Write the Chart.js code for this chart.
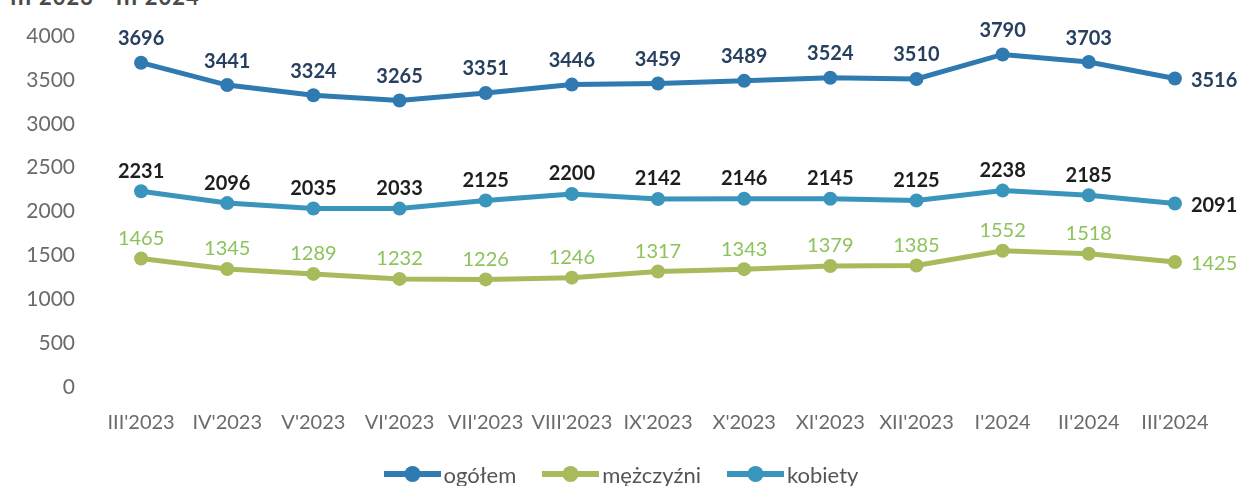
<!DOCTYPE html>
<html>
<head>
<meta charset="utf-8">
<script src="https://cdn.jsdelivr.net/npm/chart.js@4"></script>
<style>
  html, body { margin: 0; padding: 0; background: #ffffff; }
  #wrap { position: relative; width: 1242px; height: 486px; overflow: hidden; }
  #title { position: absolute; left: 10px; top: -17px; font: bold 22px Lato, sans-serif; color: #4a4a4a; letter-spacing: 1px; }
  canvas { position: absolute; left: 0; top: 0; }
  #legend { position: absolute; left: 0; width: 1242px; top: 460px; height: 28px;
            display: flex; justify-content: center; align-items: center;
            font: 22px Lato, sans-serif; color: #555555; }
  .item { display: flex; align-items: center; margin: 0 13px; }
  .item canvas { position: static; margin-right: 3px; }
</style>
</head>
<body>
<div id="wrap">
  <div id="title">III 2023 - III 2024</div>
  <canvas id="chart" width="1242" height="486"></canvas>
  <div id="legend"></div>
</div>
<script>
// dane z wykresu
const months = ["III'2023", "IV'2023", "V'2023", "VI'2023", "VII'2023", "VIII'2023", "IX'2023",
                "X'2023", "XI'2023", "XII'2023", "I'2024", "II'2024", "III'2024"];
const ogolem = [3696, 3441, 3324, 3265, 3351, 3446, 3459, 3489, 3524, 3510, 3790, 3703, 3516];
const mezczyzni = [1465, 1345, 1289, 1232, 1226, 1246, 1317, 1343, 1379, 1385, 1552, 1518, 1425];
const kobiety = [2231, 2096, 2035, 2033, 2125, 2200, 2142, 2146, 2145, 2125, 2238, 2185, 2091];
const seriesNames = ['ogółem', 'mężczyźni', 'kobiety'];
const yTicks = [0, 500, 1000, 1500, 2000, 2500, 3000, 3500, 4000];

const lineColors = ['#2f7bb1', '#a8bb5c', '#3a95bd'];
const labelColors = ['#27405f', '#8cc35a', '#1e1e1e'];
const labelBold = [true, false, true];
const labelLift = [24, 20, 20];   // odstęp etykiety nad punktem

// legenda: linia z kropką + nazwa
function legendIcon(color) {
    const c = document.createElement('canvas');
    c.width = 57; c.height = 18;
    const g = c.getContext('2d');
    g.strokeStyle = color;
    g.lineWidth = 6;
    g.beginPath();
    g.moveTo(0, 9); g.lineTo(57, 9);
    g.stroke();
    g.fillStyle = color;
    g.beginPath();
    g.arc(28.5, 9, 8, 0, Math.PI * 2);
    g.fill();
    return c;
}

const legend = document.getElementById('legend');
seriesNames.forEach((name, i) => {
    const item = document.createElement('div');
    item.className = 'item';
    item.appendChild(legendIcon(lineColors[i]));
    const txt = document.createElement('span');
    txt.textContent = name;
    item.appendChild(txt);
    legend.appendChild(item);
});

// etykiety wartości nad punktami
const valueLabels = {
    id: 'valueLabels',
    afterDatasetsDraw(chart) {
        const ctx = chart.ctx;
        chart.data.datasets.forEach((ds, i) => {
            const meta = chart.getDatasetMeta(i);
            ctx.save();
            ctx.fillStyle = labelColors[i];
            ctx.font = (labelBold[i] ? 'bold ' : '') + '20px Lato, sans-serif';
            ctx.textBaseline = 'middle';
            meta.data.forEach((pt, j) => {
                const last = j === meta.data.length - 1;
                if (last) {
                    ctx.textAlign = 'left';
                    ctx.fillText(ds.data[j], pt.x + 16, pt.y + 2);
                } else {
                    ctx.textAlign = 'center';
                    ctx.fillText(ds.data[j], pt.x, pt.y - labelLift[i]);
                }
            });
            ctx.restore();
        });
    }
};

const ctx = document.getElementById('chart').getContext('2d');
const seriesData = [ogolem, mezczyzni, kobiety];

new Chart(ctx, {
    type: 'line',
    data: {
        labels: months,
        datasets: seriesData.map((d, i) => ({
            label: seriesNames[i],
            data: d,
            borderColor: lineColors[i],
            backgroundColor: lineColors[i],
            borderWidth: 5,
            pointRadius: 7,
            pointHoverRadius: 7,
            pointBorderWidth: 0,
            pointStyle: 'circle',
            tension: 0,
            fill: false
        }))
    },
    options: {
        responsive: false,
        animation: false,
        layout: { padding: { top: 36, right: 24, bottom: 50, left: 0 } },
        plugins: {
            tooltip: { enabled: false },
            legend: { display: false }
        },
        scales: {
            x: {
                offset: true,
                grid: { display: false, drawTicks: false },
                border: { display: false },
                ticks: {
                    color: '#6a6a6a',
                    font: { size: 20, family: 'Lato, sans-serif' },
                    padding: 24,
                    maxRotation: 0,
                    autoSkip: false
                },
                afterFit(axis) { axis.height = 49; }
            },
            y: {
                min: 0,
                max: 4000,
                grid: { display: false, drawTicks: false },
                border: { display: false },
                afterBuildTicks(axis) { axis.ticks = yTicks.map(v => ({ value: v })); },
                ticks: {
                    color: '#6a6a6a',
                    font: { size: 21, family: 'Lato, sans-serif' },
                    padding: 23,
                    callback: v => String(v)
                },
                afterFit(axis) {
                    axis.width = 98;
                    axis.paddingTop = 0;
                    axis.paddingBottom = 0;
                }
            }
        }
    },
    plugins: [valueLabels]
});
</script>
</body>
</html>
